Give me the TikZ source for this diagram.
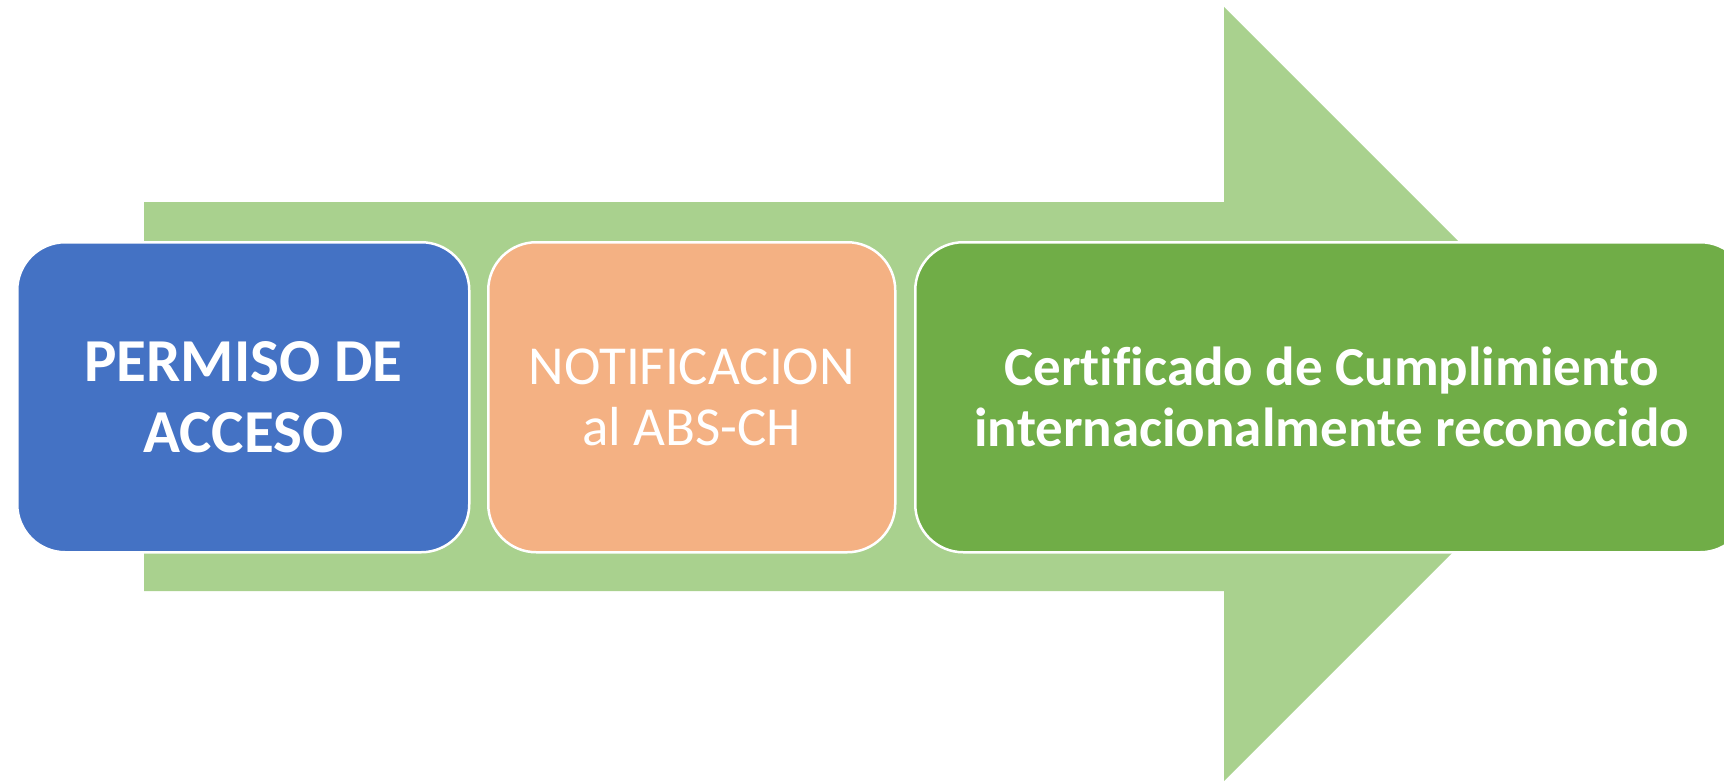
\documentclass[tikz,border=0pt]{standalone}
\usepackage{fontspec}
\setmainfont{Carlito}
\definecolor{cblue}{HTML}{4472C4}
\definecolor{corange}{HTML}{F4B183}
\definecolor{cgreen}{HTML}{70AD47}
\definecolor{clight}{HTML}{A9D18E}
\tikzset{
  stepbox/.style={draw=white, line width=2.5pt, rounded corners=48pt, inner sep=0pt,
    align=center, text=white, anchor=north west},
  bigarrow/.style={fill=clight, draw=none}
}
\begin{document}
\begin{tikzpicture}[x=1pt,y=-1pt]
\useasboundingbox (0,0) rectangle (1724,781);
\clip (0,0) rectangle (1724,781);
\fill[white] (0,0) rectangle (1724,781);
\fill[bigarrow] (144,202) -- (1224,202) -- (1224,7) -- (1611,394) -- (1224,781) -- (1224,591) -- (144,591) -- cycle;
\node[stepbox, fill=cblue, minimum width=452pt, minimum height=310pt,
  font=\fontsize{61}{71}\selectfont\bfseries] (permiso) at (16,241) {PERMISO DE\\ACCESO};
\node[stepbox, fill=corange, minimum width=407pt, minimum height=310pt,
  font=\fontsize{55}{61}\selectfont] (notif) at (487,241) {NOTIFICACION\\al ABS-CH};
\node[stepbox, fill=cgreen, minimum width=833pt, minimum height=310pt,
  font=\fontsize{55}{61}\selectfont\bfseries] (cert) at (914,241) {Cert\kern0pt if\kern0pt icado de Cumplimien\kern0pt to\\internacionalmente reconocido};
\end{tikzpicture}
\end{document}
